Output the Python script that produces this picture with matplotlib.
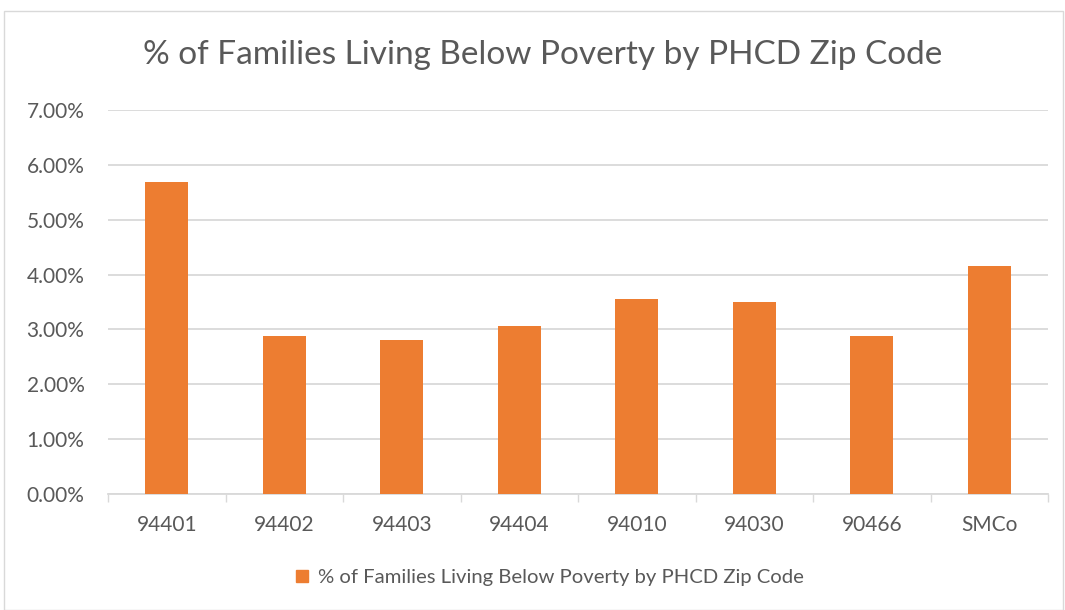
import matplotlib
matplotlib.use("Agg")
import matplotlib.pyplot as plt
from matplotlib.patches import Rectangle
import numpy as np

categories = ["94401", "94402", "94403", "94404", "94010", "94030", "90466", "SMCo"]
values = [5.68, 2.88, 2.81, 3.06, 3.56, 3.50, 2.88, 4.16]
series_name = "% of Families Living Below Poverty by PHCD Zip Code"
title = "% of Families Living Below Poverty by PHCD Zip Code"
yticks = [0, 1, 2, 3, 4, 5, 6, 7]

plt.rcParams['font.family'] = ['Lato', 'DejaVu Sans']
W, H = 1065, 610
fig = plt.figure(figsize=(W / 100, H / 100), dpi=100)
fig.patch.set_facecolor("white")

# chart border
fig.patches.append(Rectangle((4 / W, 0.5 / H), (1059) / W, (H - 11.5) / H,
                             transform=fig.transFigure, fill=False,
                             edgecolor="#d9d9d9", linewidth=1))

left, right, top, bottom = 108, 1048, 110, 494
ax = fig.add_axes([left / W, 1 - bottom / H, (right - left) / W, (bottom - top) / H])
x = np.arange(len(categories))
ax.bar(x, values, width=0.364, color="#ED7D31", zorder=3, label=series_name)
ax.set_xlim(-0.5, len(categories) - 0.5)
ax.set_ylim(0, 7)
ax.set_yticks(yticks)
ax.set_yticklabels([f"{v:.2f}%" for v in yticks])
ax.yaxis.grid(True, color="#d9d9d9", linewidth=1.3, zorder=0)
ax.tick_params(axis="y", length=0, pad=17, labelsize=15, labelcolor="#595959")
ax.set_xticks(x)
ax.set_xticklabels(categories)
ax.tick_params(axis="x", length=0, pad=15, labelsize=15, labelcolor="#595959")
ax.set_xticks(np.arange(len(categories) + 1) - 0.5, minor=True)
ax.tick_params(axis="x", which="minor", length=6, color="#d9d9d9", width=1)
for s in ["top", "right", "left"]:
    ax.spines[s].set_visible(False)
ax.spines["bottom"].set_color("#d9d9d9")
ax.spines["bottom"].set_linewidth(1.3)

fig.text(543 / W, 1 - 55 / H, title, ha="center", va="center",
         fontsize=24, color="#595959")

leg = fig.legend(handles=[Rectangle((0, 0), 1, 1, color="#ED7D31")],
                 labels=[series_name], loc="center",
                 bbox_to_anchor=(550 / W, 1 - 578 / H), frameon=False,
                 fontsize=14.6, handlelength=0.55, handleheight=0.55,
                 handletextpad=0.5, labelcolor="#595959")

fig.savefig("out.png", dpi=100, facecolor="white")
